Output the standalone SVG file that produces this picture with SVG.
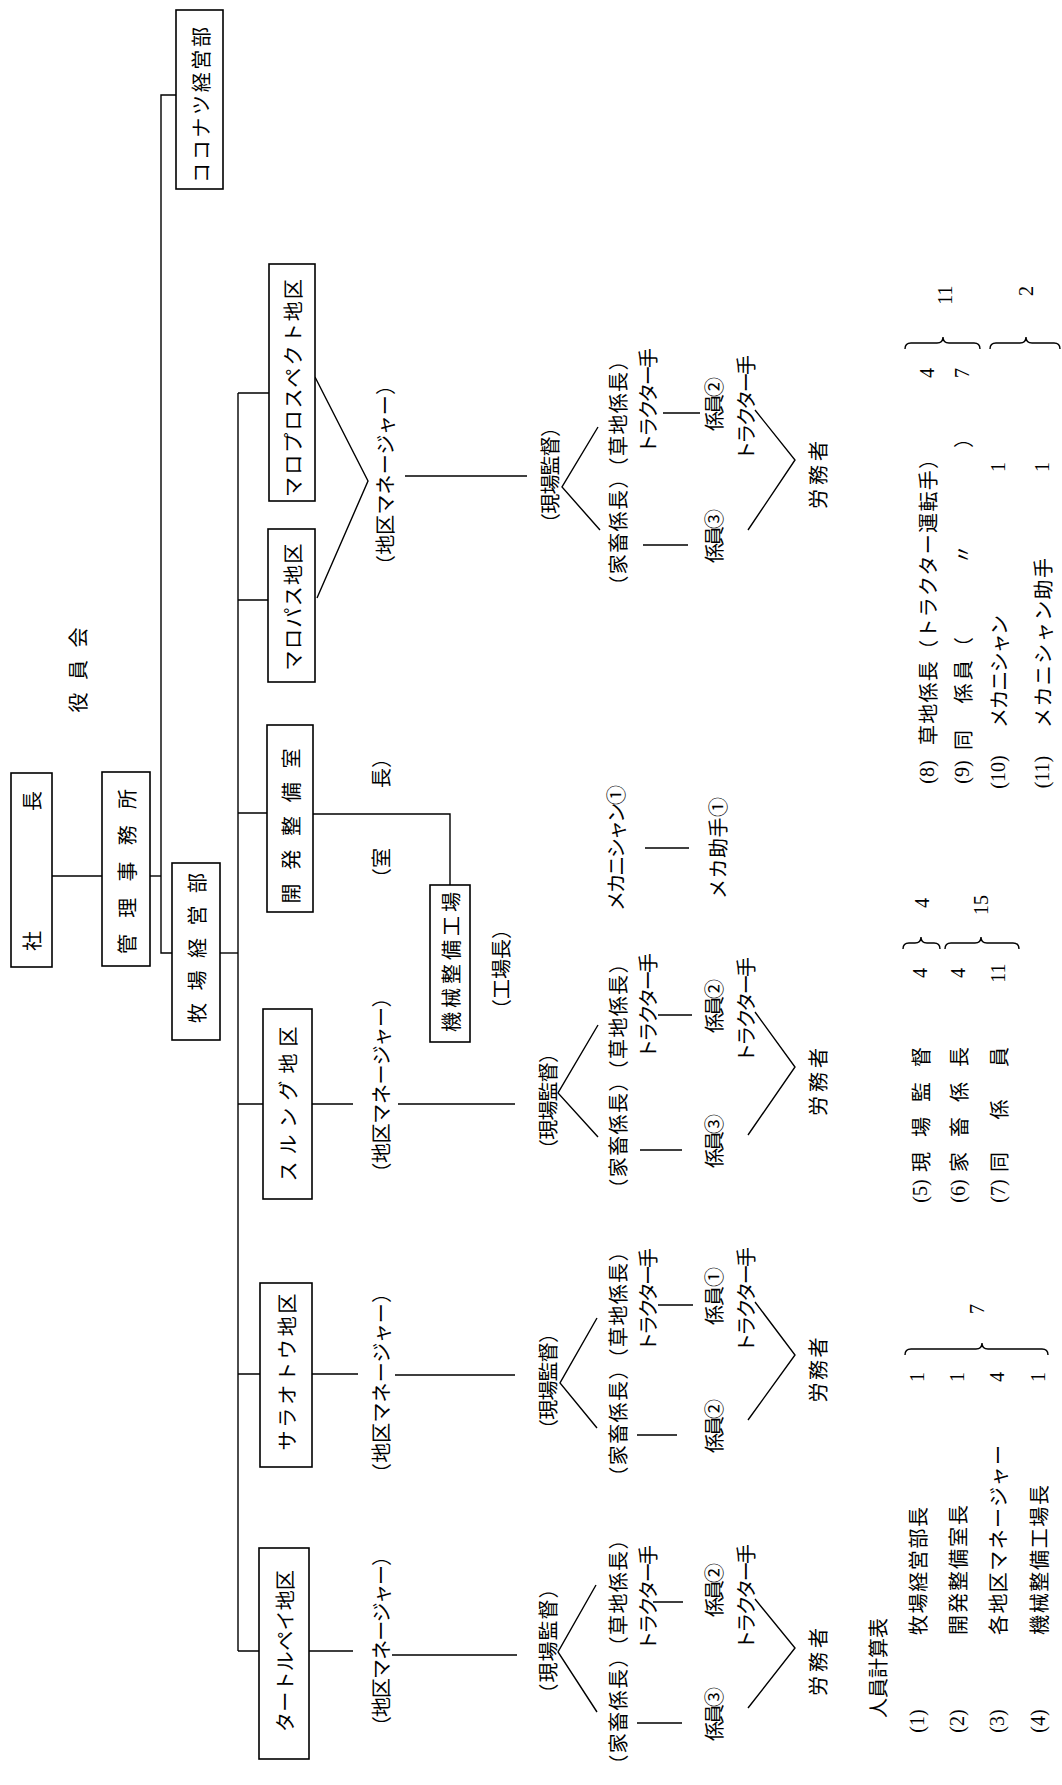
<svg xmlns="http://www.w3.org/2000/svg" width="1062" height="1785" viewBox="0 0 1062 1785">
<style>
.t{font-family:"Noto Sans CJK JP","Noto Sans CJK SC",sans-serif;font-size:20px;fill:#000;text-anchor:middle;dominant-baseline:central}
.s{text-anchor:start}
.n{font-family:"Liberation Serif",serif;font-size:20px}
.box{fill:#fff;stroke:#000;stroke-width:1.6}
.ln{fill:none;stroke:#000;stroke-width:1.4}
</style>
<rect width="1062" height="1785" fill="#fff"/>
<g transform="translate(0,1785) rotate(-90)">
<g id="connectors" class="ln">
<path d="M1690 176 V161 H832 V172"/>
<path d="M909 150 V161"/>
<path d="M909 52 V102"/>
<path d="M832 220 V238"/>
<path d="M1392 238 H134"/>
<path d="M1392 238 V269 M1185 238 V268 M972 238 V267 M681 238 V263 M411 238 V260 M134 238 V259"/>
<path d="M971 313 V450 H900"/>
<path d="M1408 315 L1304 368 L1187 317"/>
<path d="M1309 405 V527"/>
<path d="M681 312 V353 M681 398 V515"/>
<path d="M411 312 V358 M410 395 V515"/>
<path d="M134 309 V353 M130 392 V517"/>
<path d="M1358 598 L1298 562 L1255 600"/>
<path d="M760 598 L692 558 L648 598"/>
<path d="M467 597 L402 560 L357 597"/>
<path d="M200 596 L133 558 L73 597"/>
<path d="M1372 663 V700 M1240 643 V688"/>
<path d="M770 658 V692 M635 640 V682"/>
<path d="M480 658 V693 M350 637 V677"/>
<path d="M183 653 V683 M62 637 V682"/>
<path d="M1375 755 L1325 795 L1255 748"/>
<path d="M773 755 L718 795 L650 748"/>
<path d="M483 755 L430 795 L365 748"/>
<path d="M186 755 L137 795 L77 748"/>
<path d="M937 645 V689"/>
</g>
<g id="n-coconut"><rect class="box" x="1596" y="176" width="179" height="47"/><text class="t" x="1680" y="200" font-size="21" textLength="156" lengthAdjust="spacing">ココナツ経営部</text></g>
<g id="n-maroprospect"><rect class="box" x="1284" y="269" width="237" height="46"/><text class="t" x="1397" y="292" font-size="21" textLength="218" lengthAdjust="spacing">マロプロスペクト地区</text></g>
<g id="n-maropasu"><rect class="box" x="1103" y="268" width="153" height="47"/><text class="t" x="1178" y="292" font-size="21" textLength="127" lengthAdjust="spacing">マロパス地区</text></g>
<g id="n-kaihatsu"><rect class="box" x="873" y="267" width="187" height="46"/><text class="t" x="959" y="290" font-size="22" textLength="155" lengthAdjust="spacing">開発整備室</text></g>
<g id="n-shacho"><rect class="box" x="818" y="11" width="194" height="41"/><text class="t" x="914" y="31.5" font-size="22" textLength="160" lengthAdjust="spacing">社長</text></g>
<g id="n-kanri"><rect class="box" x="819" y="102" width="194" height="48"/><text class="t" x="913.5" y="126" font-size="22" textLength="165" lengthAdjust="spacing">管理事務所</text></g>
<g id="n-bokujo"><rect class="box" x="745" y="172" width="177" height="48"/><text class="t" x="837" y="196" font-size="22" textLength="150" lengthAdjust="spacing">牧場経営部</text></g>
<g id="n-kikai"><rect class="box" x="743" y="430" width="157" height="40"/><text class="t" x="823" y="450" font-size="20" textLength="140" lengthAdjust="spacing">機械整備工場</text></g>
<g id="n-surungu"><rect class="box" x="586" y="263" width="190" height="49"/><text class="t" x="681" y="287.5" font-size="21" textLength="155" lengthAdjust="spacing">スルング地区</text></g>
<g id="n-saraotou"><rect class="box" x="318" y="260" width="184" height="52"/><text class="t" x="413" y="286" font-size="21" textLength="157" lengthAdjust="spacing">サラオトウ地区</text></g>
<g id="n-tartle"><rect class="box" x="26" y="259" width="211" height="50"/><text class="t" x="134" y="284" font-size="20" textLength="162" lengthAdjust="spacing">タートルペイ地区</text></g>
<g id="n-yakuin"><text class="t" x="1115" y="77" textLength="85" lengthAdjust="spacing">役員会</text></g>
<g id="n-shitsucho"><text class="t" x="967" y="380" textLength="140" lengthAdjust="spacing">（室　　　長）</text></g>
<g id="n-kojocho"><text class="t" x="816" y="500" textLength="100" lengthAdjust="spacing">（工場長）</text></g>
<g id="n-mechanic"><text class="t" x="937" y="615" font-size="18" textLength="126" lengthAdjust="spacing">メカニシャン①</text></g>
<g id="n-mechahelper"><text class="t" x="937" y="717" font-size="19" textLength="102" lengthAdjust="spacing">メカ助手①</text></g>
<g id="n-maro-sub">
<text class="t" x="1310" y="384" textLength="200" lengthAdjust="spacing">（地区マネージャー）</text>
<text class="t" x="1310" y="549" font-size="19" textLength="116" lengthAdjust="spacing">（現場監督）</text>
<text class="t" x="1312" y="617" textLength="245" lengthAdjust="spacing">（家畜係長）（草地係長）</text>
<text class="t" x="1384" y="647" font-size="18" textLength="106" lengthAdjust="spacing">トラクター手</text>
<text class="t" x="1381" y="713" font-size="19" textLength="54" lengthAdjust="spacing">係員②</text>
<text class="t" x="1249" y="713" font-size="19" textLength="54" lengthAdjust="spacing">係員③</text>
<text class="t" x="1377" y="745" font-size="18" textLength="106" lengthAdjust="spacing">トラクター手</text>
<text class="t" x="1310" y="817" font-size="19" textLength="68" lengthAdjust="spacing">労務者</text>
</g>
<g id="n-surungu-sub">
<text class="t" x="700" y="380" textLength="195" lengthAdjust="spacing">（地区マネージャー）</text>
<text class="t" x="684" y="547" font-size="19" textLength="116" lengthAdjust="spacing">（現場監督）</text>
<text class="t" x="709" y="617" textLength="245" lengthAdjust="spacing">（家畜係長）（草地係長）</text>
<text class="t" x="779" y="647" font-size="18" textLength="106" lengthAdjust="spacing">トラクター手</text>
<text class="t" x="779" y="713" font-size="19" textLength="54" lengthAdjust="spacing">係員②</text>
<text class="t" x="644" y="713" font-size="19" textLength="54" lengthAdjust="spacing">係員③</text>
<text class="t" x="775" y="745" font-size="18" textLength="106" lengthAdjust="spacing">トラクター手</text>
<text class="t" x="703" y="817" font-size="19" textLength="68" lengthAdjust="spacing">労務者</text>
</g>
<g id="n-saraotou-sub">
<text class="t" x="402" y="380" textLength="200" lengthAdjust="spacing">（地区マネージャー）</text>
<text class="t" x="404" y="547" font-size="19" textLength="116" lengthAdjust="spacing">（現場監督）</text>
<text class="t" x="421" y="617" textLength="245" lengthAdjust="spacing">（家畜係長）（草地係長）</text>
<text class="t" x="485" y="647" font-size="18" textLength="104" lengthAdjust="spacing">トラクター手</text>
<text class="t" x="489" y="713" font-size="19" textLength="58" lengthAdjust="spacing">係員①</text>
<text class="t" x="359" y="713" font-size="19" textLength="54" lengthAdjust="spacing">係員②</text>
<text class="t" x="485" y="745" font-size="18" textLength="106" lengthAdjust="spacing">トラクター手</text>
<text class="t" x="415" y="817" font-size="19" textLength="65" lengthAdjust="spacing">労務者</text>
</g>
<g id="n-tartle-sub">
<text class="t" x="144" y="380" textLength="190" lengthAdjust="spacing">（地区マネージャー）</text>
<text class="t" x="144" y="547" font-size="19" textLength="125" lengthAdjust="spacing">（現場監督）</text>
<text class="t" x="133" y="617" textLength="245" lengthAdjust="spacing">（家畜係長）（草地係長）</text>
<text class="t" x="187" y="647" font-size="18" textLength="106" lengthAdjust="spacing">トラクター手</text>
<text class="t" x="195" y="713" font-size="19" textLength="54" lengthAdjust="spacing">係員②</text>
<text class="t" x="71" y="713" font-size="19" textLength="54" lengthAdjust="spacing">係員③</text>
<text class="t" x="188" y="745" font-size="18" textLength="106" lengthAdjust="spacing">トラクター手</text>
<text class="t" x="123" y="817" font-size="19" textLength="68" lengthAdjust="spacing">労務者</text>
</g>
<g id="table">
<text class="t" x="117" y="877" textLength="100" lengthAdjust="spacing">人員計算表</text>
<g class="ln"><path d="M430 905 Q436 905 436 911 L436 976 Q436 982 442 982 Q436 982 436 988 L436 1042 Q436 1048 430 1048"/>
<path d="M836 903 Q842 903 842 909 L842 915 Q842 921 848 921 Q842 921 842 927 L842 934 Q842 940 836 940"/>
<path d="M836 945 Q842 945 842 951 L842 975 Q842 981 848 981 Q842 981 842 987 L842 1013 Q842 1019 836 1019"/>
<path d="M1436 905 Q1442 905 1442 911 L1442 937 Q1442 943 1448 943 Q1442 943 1442 949 L1442 974 Q1442 980 1436 980"/>
<path d="M1436 990 Q1442 990 1442 996 L1442 1020 Q1442 1026 1448 1026 Q1442 1026 1442 1032 L1442 1054 Q1442 1060 1436 1060"/></g>
<text class="t n" x="64" y="917" font-size="18">(1)</text>
<text class="t n" x="64" y="957" font-size="18">(2)</text>
<text class="t n" x="64" y="997" font-size="18">(3)</text>
<text class="t n" x="64" y="1038" font-size="18">(4)</text>
<text class="t s" x="150" y="917" textLength="128" lengthAdjust="spacing">牧場経営部長</text>
<text class="t s" x="150" y="957" textLength="130" lengthAdjust="spacing">開発整備室長</text>
<text class="t s" x="150" y="997" textLength="190" lengthAdjust="spacing">各地区マネージャー</text>
<text class="t s" x="150" y="1038" textLength="150" lengthAdjust="spacing">機械整備工場長</text>
<text class="t n" x="408" y="917">1</text>
<text class="t n" x="408" y="957">1</text>
<text class="t n" x="408" y="997">4</text>
<text class="t n" x="408" y="1038">1</text>
<text class="t n" x="476" y="977">7</text>
<text class="t n" x="594" y="920" font-size="18">(5)</text>
<text class="t n" x="594" y="958" font-size="18">(6)</text>
<text class="t n" x="594" y="998" font-size="18">(7)</text>
<text class="t s" x="613" y="920" font-size="18" textLength="125" lengthAdjust="spacing">現　場　監　督</text>
<text class="t s" x="613" y="958" font-size="18" textLength="125" lengthAdjust="spacing">家　畜　係　長</text>
<text class="t s" x="613" y="998" font-size="18" textLength="125" lengthAdjust="spacing">同　　係　　員</text>
<text class="t n" x="812" y="920">4</text>
<text class="t n" x="812" y="958">4</text>
<text class="t n" x="812" y="998">11</text>
<text class="t n" x="882" y="922">4</text>
<text class="t n" x="880" y="981">15</text>
<text class="t n" x="1013" y="927" font-size="18">(8)</text>
<text class="t n" x="1013" y="962" font-size="18">(9)</text>
<text class="t n" x="1013" y="998" font-size="16">(10)</text>
<text class="t n" x="1013" y="1042" font-size="16">(11)</text>
<text class="t s" x="1040" y="927" textLength="296" lengthAdjust="spacing">草地係長（トラクター運転手）</text>
<text class="t s" x="1035" y="962" textLength="322" lengthAdjust="spacing">同　係員（　　　〃　　　　）</text>
<text class="t s" x="1057" y="998" font-size="19" textLength="113" lengthAdjust="spacing">メカニシャン</text>
<text class="t s" x="1057" y="1042" textLength="170" lengthAdjust="spacing">メカニシャン助手</text>
<text class="t n" x="1412" y="927">4</text>
<text class="t n" x="1412" y="962">7</text>
<text class="t n" x="1318" y="998">1</text>
<text class="t n" x="1318" y="1042">1</text>
<text class="t n" x="1490" y="945">11</text>
<text class="t n" x="1494" y="1026">2</text>
</g>
</g>
</svg>
